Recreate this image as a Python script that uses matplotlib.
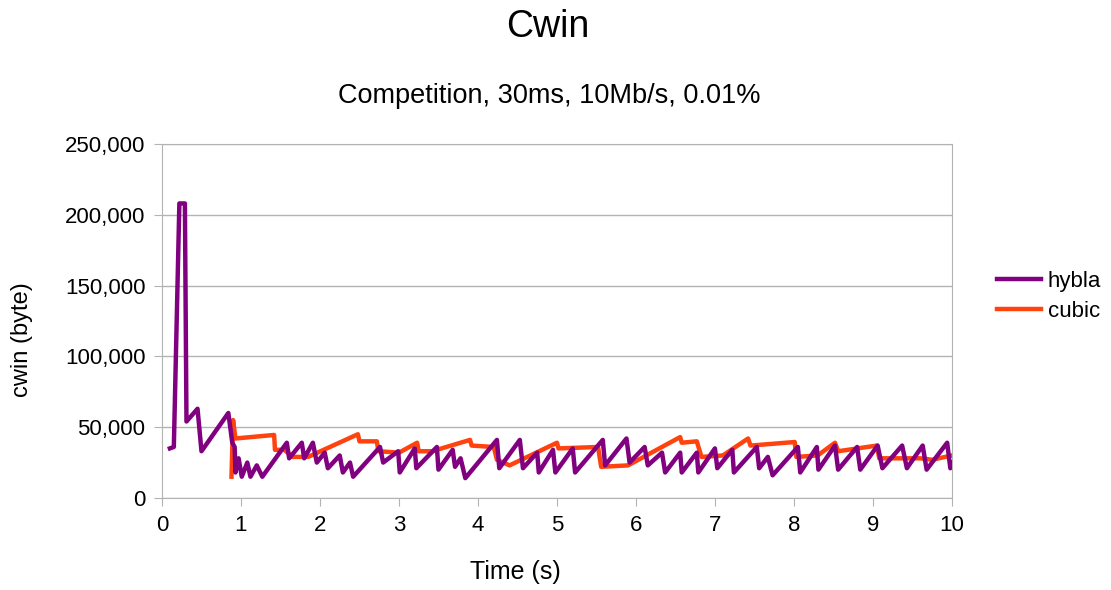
import matplotlib.pyplot as plt
from matplotlib.ticker import FuncFormatter, MultipleLocator

# cwin traces, time in seconds, cwin in bytes
hybla_t = [0.10, 0.15, 0.22, 0.29, 0.31, 0.45, 0.50, 0.84, 0.89, 0.92, 0.93, 0.97, 1.01, 1.08,
           1.12, 1.20, 1.27, 1.58, 1.61, 1.77, 1.80, 1.91, 1.96, 2.06, 2.10, 2.25, 2.29, 2.38,
           2.42, 2.76, 2.80, 2.99, 3.01, 3.20, 3.22, 3.48, 3.50, 3.68, 3.71, 3.78, 3.84, 4.24,
           4.27, 4.53, 4.57, 4.75, 4.77, 4.95, 4.98, 5.20, 5.23, 5.58, 5.61, 5.88, 5.92, 6.11,
           6.15, 6.33, 6.37, 6.56, 6.58, 6.77, 6.79, 7.00, 7.03, 7.22, 7.24, 7.53, 7.56, 7.67,
           7.73, 8.05, 8.08, 8.29, 8.31, 8.52, 8.56, 8.80, 8.84, 9.06, 9.12, 9.37, 9.43, 9.63,
           9.68, 9.94, 9.98, 10.0]
hybla_kb = [35, 36, 208, 208, 54, 63, 33, 60, 39, 36, 18, 28, 15, 25,
            15, 23, 15, 39, 28, 39, 28, 39, 25, 32, 21, 30, 18, 25,
            15, 36, 25, 33, 18, 35, 21, 36, 20, 34, 22, 28, 14, 41,
            21, 41, 21, 32, 18, 34, 18, 35, 18, 41, 23, 42, 25, 36,
            23, 32, 18, 32, 18, 32, 18, 35, 21, 34, 18, 36, 21, 29,
            16, 36, 18, 36, 20, 37, 20, 36, 20, 37, 21, 37, 21, 37,
            20, 39, 21, 25]

cubic_t = [0.88, 0.90, 0.93, 1.42, 1.43, 1.55, 1.65, 1.85, 2.48, 2.50, 2.72, 2.74, 3.00, 3.23,
           3.25, 3.42, 3.90, 3.92, 4.20, 4.24, 4.40, 5.00, 5.02, 5.52, 5.56, 5.90, 6.56, 6.58,
           6.77, 6.83, 7.10, 7.42, 7.45, 8.01, 8.03, 8.30, 8.52, 8.56, 9.05, 9.08, 9.60, 9.75, 10.0]
cubic_kb = [15, 55, 42, 44.5, 34, 34, 29, 29, 45, 40, 40, 33, 32, 39,
            33, 33, 41, 37, 36, 27, 23, 39, 35, 36, 22, 23, 43, 39,
            40, 29, 30, 42, 37, 39.5, 29, 30, 39, 33, 37, 28, 28, 27, 30]

hybla = [v * 1000 for v in hybla_kb]
cubic = [v * 1000 for v in cubic_kb]

plt.rcParams['font.family'] = ['Liberation Sans', 'DejaVu Sans']

fig = plt.figure(figsize=(11.11, 5.90), dpi=100)
ax = fig.add_axes([0.1458, 0.156, 0.711, 0.600])

ax.plot(cubic_t, cubic, color='#ff420e', lw=3.2, label='cubic', zorder=3)
ax.plot(hybla_t, hybla, color='#800080', lw=3.2, label='hybla', zorder=4)

ax.set_xlim(0, 10)
ax.set_ylim(0, 250000)
ax.xaxis.set_major_locator(MultipleLocator(1))
ax.yaxis.set_major_locator(MultipleLocator(50000))
ax.yaxis.set_major_formatter(FuncFormatter(lambda v, p: f'{int(v):,}'))
ax.grid(axis='y', color='#b3b3b3', lw=1.0)
ax.set_axisbelow(True)
for s in ax.spines.values():
    s.set_color('#b3b3b3')
ax.tick_params(direction='out', length=6, color='#b3b3b3', labelsize=16, pad=6)

# axis titles placed on the figure
fig.text(0.464, 0.030, 'Time (s)', ha='center', va='center', fontsize=18)
fig.text(0.020, 0.425, 'cwin (byte)', ha='center', va='center', rotation=90, fontsize=17)

fig.text(0.493, 0.954, 'Cwin', ha='center', va='center', fontsize=27)
fig.text(0.494, 0.837, 'Competition, 30ms, 10Mb/s, 0.01%', ha='center', va='center', fontsize=19.5)

handles, labels = ax.get_legend_handles_labels()
fig.legend(handles[::-1], labels[::-1], loc='center left', bbox_to_anchor=(0.897, 0.498),
           frameon=False, fontsize=16, borderpad=0, borderaxespad=0,
           handlelength=2.0, handletextpad=0.3, labelspacing=0.4)

fig.savefig('out.png', dpi=100)
